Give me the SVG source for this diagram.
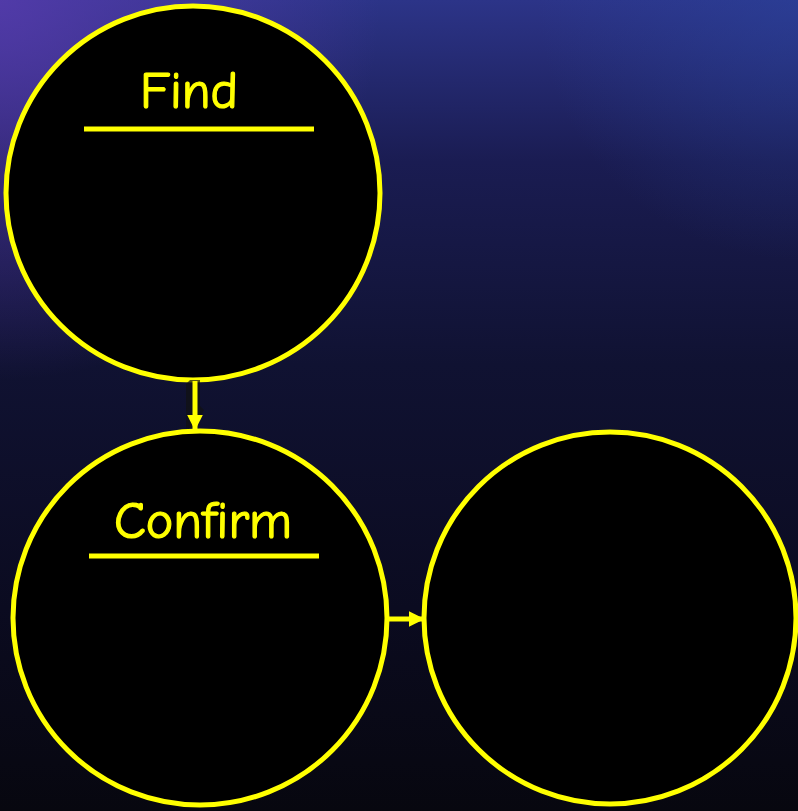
<svg xmlns="http://www.w3.org/2000/svg" width="798" height="811" viewBox="0 0 798 811">
<defs>
<linearGradient id="bg" x1="0" y1="0" x2="0" y2="1">
<stop offset="0" stop-color="#2c3488"/>
<stop offset="0.2" stop-color="#1a1c52"/>
<stop offset="0.45" stop-color="#101232"/>
<stop offset="0.75" stop-color="#0b0b20"/>
<stop offset="1" stop-color="#07070f"/>
</linearGradient>
<radialGradient id="glow1" cx="0" cy="0" r="380" gradientUnits="userSpaceOnUse">
<stop offset="0" stop-color="#5a3cb0" stop-opacity="0.8"/>
<stop offset="1" stop-color="#5a3cb0" stop-opacity="0"/>
</radialGradient>
<radialGradient id="glow2" cx="798" cy="0" r="260" gradientUnits="userSpaceOnUse">
<stop offset="0" stop-color="#2a45a0" stop-opacity="0.5"/>
<stop offset="1" stop-color="#2a45a0" stop-opacity="0"/>
</radialGradient>
<marker id="ah" viewBox="0 0 10 10" refX="9" refY="5" markerWidth="3.2" markerHeight="3.2" orient="auto" markerUnits="strokeWidth">
<path d="M0,0 L10,5 L0,10 Z" fill="#ffff00"/>
</marker>
</defs>
<style>
.node{fill:#000;stroke:#ffff00;stroke-width:5}
.lbl{font-family:"Comic Sans MS","Comic Neue","Liberation Sans",sans-serif;font-size:52px;fill:#ffff00;stroke:#ffff00;stroke-width:1.2}
.ul{stroke:#ffff00;stroke-width:5}
.conn{stroke:#ffff00;stroke-width:5;fill:none}
</style>
<rect width="798" height="811" fill="url(#bg)"/>
<rect width="798" height="811" fill="url(#glow1)"/>
<rect width="798" height="811" fill="url(#glow2)"/>
<g id="find">
<circle class="node" cx="193" cy="193" r="187"/>
<text class="lbl" x="189" y="108" text-anchor="middle">Find</text>
<line class="ul" x1="84" y1="129" x2="314" y2="129"/>
</g>
<g id="confirm">
<circle class="node" cx="200" cy="618" r="187"/>
<text class="lbl" x="203" y="538" text-anchor="middle">Confirm</text>
<line class="ul" x1="89" y1="556" x2="319" y2="556"/>
</g>
<g id="result">
<circle class="node" cx="610" cy="618" r="186"/>
</g>
<g id="connectors">
<path d="M186,384 L190,380 L200,380 L200,406 L204,410 L196,428 L186,428 Z" fill="#111" opacity="0.7"/>
<line class="conn" x1="195" y1="381" x2="195" y2="429" marker-end="url(#ah)"/>
<line class="conn" x1="389" y1="619" x2="423" y2="619" marker-end="url(#ah)"/>
</g>
</svg>
